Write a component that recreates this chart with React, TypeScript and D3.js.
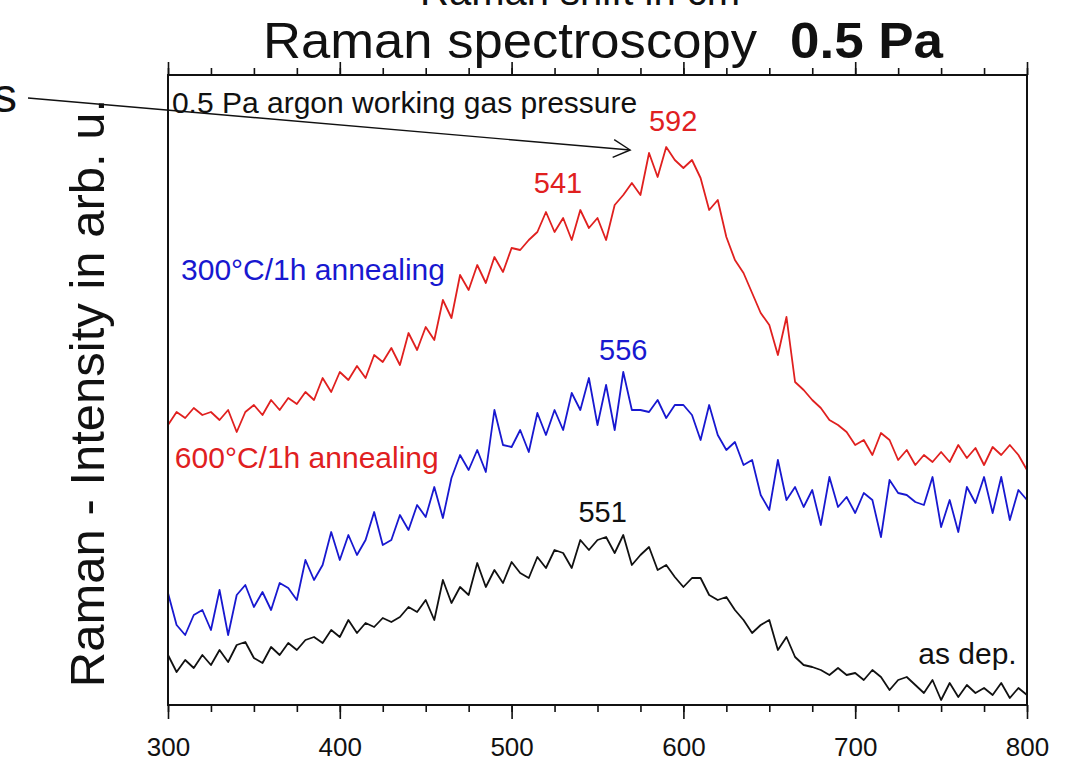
import { useEffect, useRef } from 'react';
import * as d3 from 'd3';

// Raman shift grid (cm^-1) shared by all three spectra
const ramanShift = d3.range(300, 801, 5);

// 600°C/1h annealing (red)
const annealed600 = [
  280, 293, 287, 297, 290, 293, 285, 295, 273, 293,
  300, 290, 305, 295, 307, 301, 313, 305, 327, 313,
  333, 325, 339, 327, 350, 343, 357, 340, 372, 355,
  378, 365, 405, 387, 430, 415, 440, 422, 448, 433,
  457, 455, 465, 473, 493, 473, 487, 465, 495, 477,
  487, 465, 500, 510, 522, 510, 552, 528, 558, 545,
  537, 545, 527, 495, 505, 468, 445, 432, 412, 392,
  380, 350, 388, 323, 315, 305, 297, 285, 280, 273,
  260, 265, 250, 272, 265, 245, 255, 240, 250, 243,
  253, 243, 260, 247, 257, 240, 258, 250, 260, 250,
  235,
];

// 300°C/1h annealing (blue)
const annealed300 = [
  112, 80, 70, 90, 95, 75, 115, 70, 110, 120,
  98, 113, 95, 122, 117, 105, 145, 125, 140, 173,
  145, 170, 150, 165, 193, 160, 165, 190, 175, 200,
  188, 218, 187, 227, 250, 235, 255, 233, 295, 260,
  258, 275, 253, 292, 270, 295, 275, 312, 295, 327,
  280, 320, 275, 333, 295, 295, 293, 305, 287, 300,
  300, 290, 265, 300, 270, 255, 263, 240, 245, 210,
  195, 245, 205, 218, 198, 215, 180, 228, 198, 208,
  192, 212, 205, 168, 225, 212, 210, 203, 200, 228,
  178, 205, 173, 218, 202, 228, 192, 228, 185, 215,
  205,
];

// as deposited (black)
const asDeposited = [
  50, 33, 45, 37, 50, 40, 55, 43, 60, 63,
  47, 42, 58, 50, 62, 55, 65, 68, 62, 75,
  68, 85, 72, 82, 78, 87, 83, 88, 98, 93,
  105, 85, 125, 102, 118, 110, 142, 118, 135, 122,
  143, 132, 127, 148, 137, 155, 152, 137, 165, 155,
  165, 168, 152, 170, 140, 150, 158, 135, 140, 128,
  118, 127, 127, 110, 105, 108, 95, 85, 72, 80,
  85, 55, 68, 48, 40, 38, 35, 30, 37, 30,
  32, 25, 35, 28, 15, 25, 28, 20, 12, 25,
  5, 22, 8, 20, 12, 17, 10, 22, 7, 17,
  10,
];

const majorTicks = [300, 400, 500, 600, 700, 800];
const minorTicks = d3.range(300, 801, 25);

const RED = '#e0201f';
const BLUE = '#1818d0';
const BLACK = '#111111';

const seriesList = [
  { name: '600°C/1h annealing', values: annealed600, color: RED },
  { name: '300°C/1h annealing', values: annealed300, color: BLUE },
  { name: 'as dep.', values: asDeposited, color: BLACK },
];

// peak labels placed in data units
const peakLabels = [
  { text: '592', shift: 594, level: 574, color: RED },
  { text: '541', shift: 527, level: 512, color: RED },
  { text: '556', shift: 565, level: 345, color: BLUE },
  { text: '551', shift: 553, level: 183, color: BLACK },
];

const App = () => {
  const svgRef = useRef(null);

  useEffect(() => {
    const svg = d3.select(svgRef.current);
    svg.selectAll('*').remove();

    const margin = { top: 75, left: 168 };
    const width = 859;
    const height = 630;
    const font = 'Liberation Sans, Arial, Helvetica, sans-serif';

    const x = d3.scaleLinear().domain([300, 800]).range([0, width]);
    const y = d3.scaleLinear().domain([0, 630]).range([height, 0]);

    svg.attr('font-family', font);

    // cut-off x title at the very top of the slide
    svg.append('text')
      .attr('x', 420).attr('y', 5)
      .attr('font-size', 40)
      .attr('fill', '#111')
      .text('Raman shift in cm');

    svg.append('text')
      .attr('x', 263).attr('y', 58)
      .attr('font-size', 50)
      .attr('textLength', 494)
      .attr('lengthAdjust', 'spacingAndGlyphs')
      .attr('fill', '#111')
      .text('Raman spectroscopy');
    svg.append('text')
      .attr('x', 790).attr('y', 58)
      .attr('font-size', 50)
      .attr('font-weight', 'bold')
      .attr('textLength', 153)
      .attr('lengthAdjust', 'spacingAndGlyphs')
      .attr('fill', '#111')
      .text('0.5 Pa');

    // stray "s" from the slide text on the left
    svg.append('text')
      .attr('x', 17).attr('y', 112)
      .attr('text-anchor', 'end')
      .attr('font-size', 48)
      .attr('fill', '#111')
      .text('s');

    svg.append('text')
      .attr('transform', 'translate(104,393) rotate(-90)')
      .attr('text-anchor', 'middle')
      .attr('font-size', 49)
      .attr('fill', '#111')
      .text('Raman - Intensity in arb. u.');

    const g = svg.append('g').attr('transform', `translate(${margin.left},${margin.top})`);

    // spectra
    const line = d3.line()
      .x((d, i) => x(ramanShift[i]))
      .y(d => y(d));

    seriesList.forEach(s => {
      g.append('path')
        .datum(s.values)
        .attr('fill', 'none')
        .attr('stroke', s.color)
        .attr('stroke-width', 1.8)
        .attr('stroke-linejoin', 'round')
        .attr('d', line);
    });

    // axes (bottom with labels, top mirrored without)
    const bottomMinor = g.append('g').attr('transform', `translate(0,${height})`)
      .call(d3.axisBottom(x).tickValues(minorTicks).tickSize(7).tickFormat(() => ''));
    const bottomMajor = g.append('g').attr('transform', `translate(0,${height})`)
      .call(d3.axisBottom(x).tickValues(majorTicks).tickSize(14).tickFormat(d3.format('d')));
    bottomMajor.selectAll('text')
      .attr('y', 51).attr('dy', 0)
      .attr('font-size', 26)
      .attr('font-family', font)
      .attr('fill', '#111');

    const topMinor = g.append('g')
      .call(d3.axisTop(x).tickValues(minorTicks).tickSize(7).tickFormat(() => ''));
    const topMajor = g.append('g')
      .call(d3.axisTop(x).tickValues(majorTicks).tickSize(13).tickFormat(() => ''));

    [bottomMinor, bottomMajor, topMinor, topMajor].forEach(a => {
      a.select('.domain').remove();
      a.selectAll('line').attr('stroke', '#111').attr('stroke-width', 1.6);
    });

    g.append('rect')
      .attr('width', width).attr('height', height)
      .attr('fill', 'none')
      .attr('stroke', '#111')
      .attr('stroke-width', 2);

    // in-plot texts
    g.append('text')
      .attr('x', x(302.3)).attr('y', y(592))
      .attr('font-size', 30).attr('fill', '#111')
      .text('0.5 Pa argon working gas pressure');

    g.append('text')
      .attr('x', x(307.6)).attr('y', y(425))
      .attr('font-size', 30).attr('fill', BLUE)
      .text('300°C/1h annealing');

    g.append('text')
      .attr('x', x(304)).attr('y', y(237))
      .attr('font-size', 30).attr('fill', RED)
      .text('600°C/1h annealing');

    g.append('text')
      .attr('x', x(794)).attr('y', y(41))
      .attr('text-anchor', 'end')
      .attr('font-size', 30).attr('fill', BLACK)
      .text('as dep.');

    peakLabels.forEach(p => {
      g.append('text')
        .attr('x', x(p.shift)).attr('y', y(p.level))
        .attr('text-anchor', 'middle')
        .attr('font-size', 29)
        .attr('fill', p.color)
        .text(p.text);
    });

    // arrow from the slide text to the 592 peak
    const x0 = x(218.5), y0 = y(607);
    const x1 = x(569), y1 = y(555);
    g.append('line')
      .attr('x1', x0).attr('y1', y0).attr('x2', x1).attr('y2', y1)
      .attr('stroke', '#111').attr('stroke-width', 1.4);
    const ang = Math.atan2(y1 - y0, x1 - x0);
    const headLen = 19;
    const spread = (28 * Math.PI) / 180;
    const head = d3.path();
    head.moveTo(x1 - headLen * Math.cos(ang - spread), y1 - headLen * Math.sin(ang - spread));
    head.lineTo(x1, y1);
    head.lineTo(x1 - headLen * Math.cos(ang + spread), y1 - headLen * Math.sin(ang + spread));
    g.append('path')
      .attr('d', head.toString())
      .attr('fill', 'none')
      .attr('stroke', '#111')
      .attr('stroke-width', 1.4);
  }, []);

  return (
    <div style={{ position: 'absolute', top: 0, left: 0, width: 1084, height: 770, background: '#fff' }}>
      <svg ref={svgRef} width={1084} height={770} style={{ display: 'block' }} />
    </div>
  );
};

export default App;
